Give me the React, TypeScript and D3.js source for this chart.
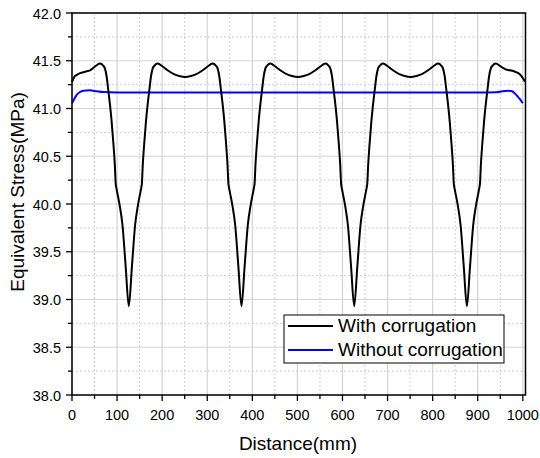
import React from "react";
import * as d3 from "d3";

const withX = [0, 5, 10, 18, 29, 40, 51, 62, 69, 73, 77, 80, 84, 88, 92, 95, 97, 98, 100, 106, 112, 119, 126, 133, 140, 146, 152, 154, 155, 157, 160, 164, 168, 172, 175, 179, 183, 190, 201, 212, 226, 238, 251, 264, 276, 290, 301, 312, 319, 323, 327, 330, 334, 338, 342, 345, 347, 348, 350, 356, 362, 369, 376, 383, 390, 396, 402, 404, 405, 407, 410, 414, 418, 422, 425, 429, 433, 440, 451, 462, 476, 488, 501, 514, 526, 540, 551, 562, 569, 573, 577, 580, 584, 588, 592, 595, 597, 598, 600, 606, 612, 619, 626, 633, 640, 646, 652, 654, 655, 657, 660, 664, 668, 672, 675, 679, 683, 690, 701, 712, 726, 738, 751, 764, 776, 790, 801, 812, 819, 823, 827, 830, 834, 838, 842, 845, 847, 848, 850, 856, 862, 869, 876, 883, 890, 896, 902, 904, 905, 907, 910, 914, 918, 922, 925, 929, 933, 940, 951, 962, 971, 980, 990, 997, 1005];
const withY = [41.28, 41.33, 41.35, 41.37, 41.385, 41.40, 41.44, 41.47, 41.45, 41.42, 41.33, 41.21, 41.05, 40.86, 40.62, 40.41, 40.21, 40.18, 40.13, 39.98, 39.78, 39.35, 38.93, 39.35, 39.78, 39.98, 40.13, 40.18, 40.21, 40.41, 40.62, 40.86, 41.05, 41.21, 41.33, 41.42, 41.45, 41.47, 41.44, 41.40, 41.36, 41.34, 41.33, 41.34, 41.36, 41.40, 41.44, 41.47, 41.45, 41.42, 41.33, 41.21, 41.05, 40.86, 40.62, 40.41, 40.21, 40.18, 40.13, 39.98, 39.78, 39.35, 38.93, 39.35, 39.78, 39.98, 40.13, 40.18, 40.21, 40.41, 40.62, 40.86, 41.05, 41.21, 41.33, 41.42, 41.45, 41.47, 41.44, 41.40, 41.36, 41.34, 41.33, 41.34, 41.36, 41.40, 41.44, 41.47, 41.45, 41.42, 41.33, 41.21, 41.05, 40.86, 40.62, 40.41, 40.21, 40.18, 40.13, 39.98, 39.78, 39.35, 38.93, 39.35, 39.78, 39.98, 40.13, 40.18, 40.21, 40.41, 40.62, 40.86, 41.05, 41.21, 41.33, 41.42, 41.45, 41.47, 41.44, 41.40, 41.36, 41.34, 41.33, 41.34, 41.36, 41.40, 41.44, 41.47, 41.45, 41.42, 41.33, 41.21, 41.05, 40.86, 40.62, 40.41, 40.21, 40.18, 40.13, 39.98, 39.78, 39.35, 38.93, 39.35, 39.78, 39.98, 40.13, 40.18, 40.21, 40.41, 40.62, 40.86, 41.05, 41.21, 41.33, 41.42, 41.45, 41.47, 41.44, 41.41, 41.40, 41.39, 41.37, 41.34, 41.28];

const withoutX = [0, 5, 10, 17, 25, 40, 55, 70, 100, 300, 500, 700, 900, 941, 955, 968, 976, 982, 988, 994, 1000];
const withoutY = [41.055, 41.10, 41.14, 41.17, 41.186, 41.19, 41.18, 41.172, 41.168, 41.168, 41.168, 41.168, 41.168, 41.17, 41.18, 41.185, 41.18, 41.16, 41.13, 41.095, 41.055];

const xTicks = [0, 100, 200, 300, 400, 500, 600, 700, 800, 900, 1000];
const xMinor = [50, 150, 250, 350, 450, 550, 650, 750, 850, 950];
const yTicks = [38.0, 38.5, 39.0, 39.5, 40.0, 40.5, 41.0, 41.5, 42.0];
const yMinor = [38.25, 38.75, 39.25, 39.75, 40.25, 40.75, 41.25, 41.75];

const seriesNames = ["With corrugation", "Without corrugation"];
const seriesColors = ["#000000", "#0000ff"];

export default function App() {
  const W = 540, H = 458;
  const left = 72, right = 525.5, top = 13, bottom = 395;
  const x = d3.scaleLinear().domain([0, 1006]).range([left, right]);
  const y = d3.scaleLinear().domain([38, 42]).range([bottom, top]);
  const line = d3.line<[number, number]>().x(d => x(d[0])).y(d => y(d[1])).curve(d3.curveMonotoneX);
  const s1 = withX.map((v, i) => [v, withY[i]] as [number, number]);
  const s2 = withoutX.map((v, i) => [v, withoutY[i]] as [number, number]);
  const font = "Arial, 'Liberation Sans', sans-serif";
  const lx = 284, ly = 315, lw = 220, lh = 48;
  return (
    <svg width={W} height={H} style={{ position: "absolute", left: 0, top: 0, background: "#fff" }} fontFamily={font}>
      {xMinor.map(t => (
        <line key={"xm" + t} x1={x(t)} x2={x(t)} y1={top} y2={bottom} stroke="#c0c0c0" strokeWidth={0.8} strokeDasharray="2,2" />
      ))}
      {yMinor.map(t => (
        <line key={"ym" + t} x1={left} x2={right} y1={y(t)} y2={y(t)} stroke="#c0c0c0" strokeWidth={0.8} strokeDasharray="2,2" />
      ))}
      {xTicks.map(t => (
        <line key={"xg" + t} x1={x(t)} x2={x(t)} y1={top} y2={bottom} stroke="#d4d4d4" strokeWidth={1.2} />
      ))}
      {yTicks.map(t => (
        <line key={"yg" + t} x1={left} x2={right} y1={y(t)} y2={y(t)} stroke="#d4d4d4" strokeWidth={1.2} />
      ))}
      <path d={line(s2) || ""} fill="none" stroke={seriesColors[1]} strokeWidth={2} />
      <path d={line(s1) || ""} fill="none" stroke={seriesColors[0]} strokeWidth={2} />
      <rect x={left} y={top} width={right - left} height={bottom - top} fill="none" stroke="#000" strokeWidth={1.5} />
      {xTicks.map(t => (
        <g key={"xt" + t}>
          <line x1={x(t)} x2={x(t)} y1={bottom} y2={bottom + 6} stroke="#000" strokeWidth={1.3} />
          <text x={x(t)} y={420} fontSize={14.5} textAnchor="middle" fill="#000">{t}</text>
        </g>
      ))}
      {xMinor.map(t => (
        <line key={"xmt" + t} x1={x(t)} x2={x(t)} y1={bottom} y2={bottom + 4} stroke="#000" strokeWidth={1.3} />
      ))}
      {yTicks.map(t => (
        <g key={"yt" + t}>
          <line x1={left} x2={left - 6} y1={y(t)} y2={y(t)} stroke="#000" strokeWidth={1.3} />
          <text x={left - 11} y={y(t) + 5.5} fontSize={14.5} textAnchor="end" fill="#000">{t.toFixed(1)}</text>
        </g>
      ))}
      {yMinor.map(t => (
        <line key={"ymt" + t} x1={left} x2={left - 4} y1={y(t)} y2={y(t)} stroke="#000" strokeWidth={1.3} />
      ))}
      <text x={298} y={450} fontSize={19} textAnchor="middle" fill="#000">Distance(mm)</text>
      <text transform={`translate(24, 192) rotate(-90)`} fontSize={19} textAnchor="middle" fill="#000">Equivalent Stress(MPa)</text>
      <rect x={lx} y={ly} width={lw} height={lh} fill="#fff" stroke="#000" strokeWidth={1} />
      {seriesNames.map((n, i) => (
        <g key={n}>
          <line x1={lx + 4} x2={lx + 49} y1={ly + 11 + i * 24} y2={ly + 11 + i * 24} stroke={seriesColors[i]} strokeWidth={2} />
          <text x={lx + 54} y={ly + 17 + i * 24} fontSize={19} fill="#000">{n}</text>
        </g>
      ))}
    </svg>
  );
}
